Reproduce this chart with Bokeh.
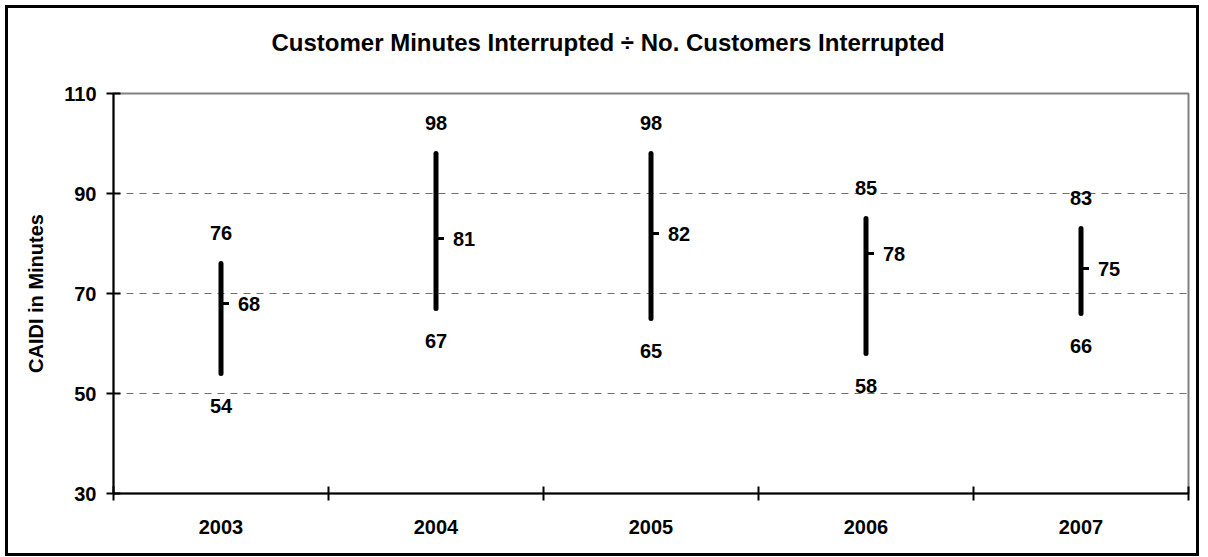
from bokeh.plotting import figure
from bokeh.models import Range1d, FixedTicker, Title
from bokeh.core.properties import value
from bokeh.embed import file_html
from bokeh.resources import INLINE

years = ["2003", "2004", "2005", "2006", "2007"]
highs = [76, 98, 98, 85, 83]
lows = [54, 67, 65, 58, 66]
closes = [68, 81, 82, 78, 75]
y_ticks = [30, 50, 70, 90, 110]
grid_ticks = [50, 70, 90]
title_text = "Customer Minutes Interrupted \u00f7 No. Customers Interrupted"
y_label = "CAIDI in Minutes"

FONT = "Liberation Sans"
W, H = 1194, 551
xs = [i + 0.5 for i in range(len(years))]

p = figure(width=W, height=H, output_backend="svg", toolbar_location=None,
           x_range=Range1d(0, len(years)), y_range=Range1d(30, 110),
           min_border_left=105, min_border_right=14, min_border_top=85, min_border_bottom=66)
p.styles = {"border": "3px solid black", "margin-left": "5px", "margin-top": "5px"}
p.background_fill_color = "white"
p.border_fill_color = "white"
p.outline_line_color = "#808080"
p.outline_line_width = 2

# spacer between title and plot area
p.add_layout(Title(text=" ", text_font_size="10px", standoff=25), "above")

# title
p.title.text = title_text
p.title.align = "left"
p.title.offset = 158
p.title.standoff = 0
p.title.text_font = FONT
p.title.text_font_style = "bold"
p.title.text_font_size = "24px"
p.title.text_color = "black"

# y axis
ya = p.yaxis[0]
ya.ticker = FixedTicker(ticks=y_ticks)
ya.axis_line_color = "black"
ya.axis_line_width = 2
ya.major_tick_line_color = "black"
ya.major_tick_line_width = 2
ya.major_tick_in = 7
ya.major_tick_out = 7
ya.minor_tick_line_color = None
ya.major_label_text_font = FONT
ya.major_label_text_font_style = "bold"
ya.major_label_text_font_size = "20px"
ya.major_label_text_color = "black"
ya.major_label_standoff = 10
ya.axis_label = y_label
ya.axis_label_text_font = FONT
ya.axis_label_text_font_style = "bold"
ya.axis_label_text_font_size = "20px"
ya.axis_label_text_color = "black"
ya.axis_label_standoff = 14

# x axis
xa = p.xaxis[0]
xa.ticker = FixedTicker(ticks=xs, minor_ticks=list(range(len(years) + 1)))
xa.major_label_overrides = {x: y for x, y in zip(xs, years)}
xa.axis_line_color = "black"
xa.axis_line_width = 2
xa.major_tick_in = 0
xa.major_tick_out = 0
xa.major_tick_line_color = None
xa.minor_tick_in = 7
xa.minor_tick_out = 7
xa.minor_tick_line_color = "black"
xa.minor_tick_line_width = 2
xa.major_label_text_font = FONT
xa.major_label_text_font_style = "bold"
xa.major_label_text_font_size = "20px"
xa.major_label_text_color = "black"
xa.major_label_standoff = 19

# grid
p.xgrid.grid_line_color = None
p.ygrid.ticker = FixedTicker(ticks=grid_ticks)
p.ygrid.grid_line_color = "#707070"
p.ygrid.grid_line_width = 1
p.ygrid.grid_line_dash = "7 6"

# high-low bars
p.segment(x0=xs, y0=lows, x1=xs, y1=highs, line_color="black", line_width=5, line_cap="round")
p.ray(x=xs, y=closes, length=8, length_units="screen", angle=0, line_color="black", line_width=3)

common = dict(text_font=value(FONT), text_font_style="bold", text_font_size="20px", text_color="black",
              text_baseline="middle")
p.text(x=xs, y=highs, text=[str(v) for v in highs], text_align="center", y_offset=-31, **common)
p.text(x=xs, y=lows, text=[str(v) for v in lows], text_align="center", y_offset=32, **common)
p.text(x=xs, y=closes, text=[str(v) for v in closes], text_align="left", x_offset=17, **common)

open("out.html", "w").write(file_html(p, INLINE))
